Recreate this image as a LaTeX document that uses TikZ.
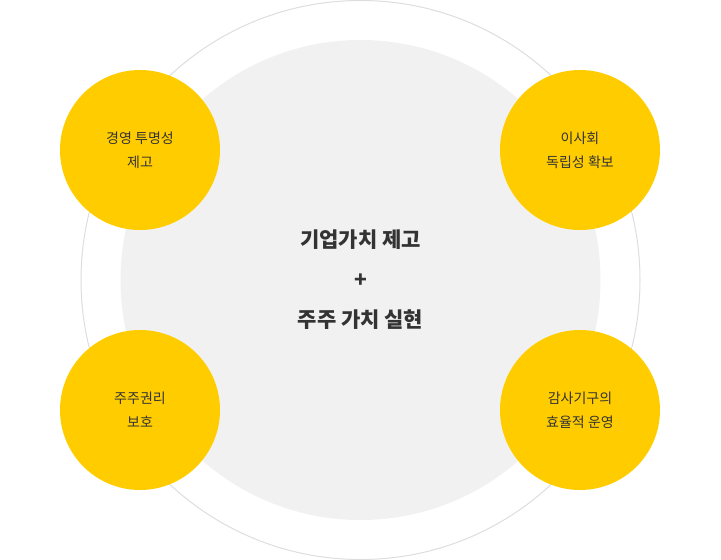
\documentclass[tikz,border=0pt]{standalone}
\usepackage{fontspec}
\setmainfont{Noto Sans CJK KR}
\newfontfamily\cjkb{Noto Sans CJK KR}[FakeBold=0]
\definecolor{ylw}{HTML}{FFCC00}
\definecolor{gbg}{HTML}{F1F1F1}
\definecolor{gln}{HTML}{DDDDDD}
\definecolor{txt}{HTML}{333333}
\tikzset{
  petal/.style={circle,fill=ylw,minimum size=160pt,inner sep=0pt,align=center,text=txt,font=\fontsize{14pt}{24pt}\selectfont},
}
\begin{document}
\begin{tikzpicture}[x=1pt,y=-1pt]
\useasboundingbox (0,0) rectangle (721,560);
\node[circle,draw=gln,line width=1pt,minimum size=559pt,inner sep=0pt] (outer) at (360.5,280) {};
\node[circle,fill=gbg,minimum size=480pt,inner sep=0pt,align=center,text=txt,font=\fontsize{21pt}{40pt}\selectfont\bfseries] (center) at (360.5,280) {기업가치 제고\\+\\주주 가치 실현};
\node[petal] (tl) at (140,150) {경영 투명성\\제고};
\node[petal] (tr) at (580,150) {이사회\\독립성 확보};
\node[petal] (bl) at (140,410) {주주권리\\보호};
\node[petal] (br) at (580,410) {감사기구의\\효율적 운영};
\end{tikzpicture}
\end{document}
